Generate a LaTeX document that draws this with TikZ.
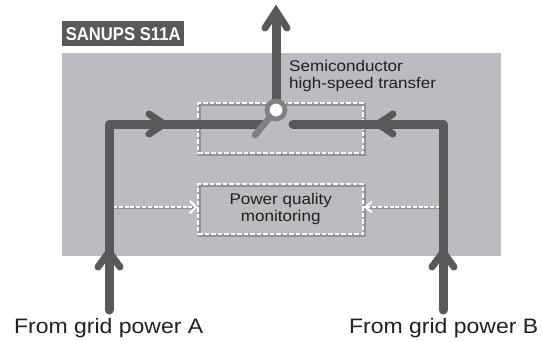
\documentclass[tikz,border=0pt]{standalone}
\usepackage{fontspec}
\setmainfont{Liberation Sans}
\usetikzlibrary{calc}
\definecolor{panel}{HTML}{BBBCC0}
\definecolor{dark}{HTML}{58595B}
\definecolor{arm}{HTML}{808184}
\definecolor{shade}{HTML}{77787B}
\definecolor{ink}{HTML}{231F20}
\newfontfamily\widefont[FakeStretch=1.1]{Liberation Sans}
\tikzset{
  x=1pt,y=-1pt,
  power/.style={draw=dark,line width=9pt,line join=round,line cap=round},
  barb/.style={draw=dark,line width=7pt,line join=miter,line cap=round},
  dashbox/.style={draw=white,line width=2.4pt,dash pattern=on 4.5pt off 2pt,minimum width=165pt,minimum height=50pt,inner sep=0pt,anchor=north west,align=center,text=ink,font=\widefont\fontsize{15.5}{17.5}\selectfont},
  dashshadow/.style={draw=shade,line width=2.4pt,minimum width=165pt,minimum height=50pt,inner sep=0pt,anchor=north west,opacity=.6},
  sense/.style={draw=white,line width=2pt,dash pattern=on 4pt off 1.8pt},
  senseshadow/.style={draw=shade,line width=2pt,opacity=.6},
  sensehead/.style={draw=white,line width=2pt,line cap=round},
  lbl/.style={text=ink,inner sep=0pt,anchor=base west}
}
\begin{document}
\begin{tikzpicture}
\useasboundingbox (0,0) rectangle (542,341);
\fill[white] (0,0) rectangle (542,341);
\node[fill=panel,minimum width=439pt,minimum height=203pt,inner sep=0pt,anchor=north west] (panel) at (62,53) {};
\node[fill=dark,minimum width=122pt,minimum height=25pt,inner sep=0pt,anchor=north west,text=white,font=\fontsize{18.5}{18.5}\bfseries] (title) at (62,21) {\scalebox{.9}[1]{SANUPS S11A}};

% shadows of dashed boxes
\node[dashshadow] (sa) at (198.2,103.2) {};
\node[dashshadow] (sb) at (198.2,184.2) {};
\node[dashbox] (transfer) at (197,102) {};
\node[dashbox] (monitor) at (197,183) {\raisebox{-2pt}{Power quality}\\\raisebox{-2pt}{monitoring}};

% named points
\coordinate (inA) at (109,310);
\coordinate (cornerA) at (109,124);
\coordinate (endA) at (262,124);
\coordinate (inB) at (443,310);
\coordinate (cornerB) at (443,124);
\coordinate (endB) at (293,124);
\coordinate (hub) at (276,110);
\coordinate (top) at (276,8);
\coordinate (armEnd) at (255,135);
\coordinate (tapA) at (113,207);
\coordinate (tapB) at (440,207);

% sensing arrows
\draw[senseshadow] ($(tapA)+(0,1.2)$) -- ($(monitor.west|-tapA)+(-3,1.2)$);
\draw[senseshadow] ($(tapB)+(0,1.2)$) -- ($(monitor.east|-tapB)+(3,1.2)$);
\draw[sense] (tapA) -- ($(monitor.west|-tapA)+(-3,0)$);
\draw[sense] (tapB) -- ($(monitor.east|-tapB)+(3,0)$);
\draw[sensehead] ($(monitor.west|-tapA)+(-7,-6)$) -- ($(monitor.west|-tapA)+(-1,0)$) -- ($(monitor.west|-tapA)+(-7,6)$);
\draw[sensehead] ($(monitor.east|-tapB)+(7,-5)$) -- ($(monitor.east|-tapB)+(1,0)$) -- ($(monitor.east|-tapB)+(7,5)$);

% power lines
\draw[power] (inA) -- (cornerA) -- (endA);
\draw[power] (inB) -- (cornerB) -- (endB);
\draw[power,line cap=butt] (hub) -- (276,16);
\draw[barb] (149,114) -- (164,124) -- (149,134);
\draw[barb] (393,114) -- (378,124) -- (393,134);
\draw[barb] (98,267) -- (109,252) -- (120,267);
\draw[barb] (432,267) -- (443,252) -- (454,267);
\draw[barb] (265,28) -- (276,11) -- (287,28);

% switch
\draw[draw=arm,line width=6.5pt,line cap=round] (hub) -- (armEnd);
\node[circle,draw=arm,fill=white,line width=4.8pt,minimum size=18pt,inner sep=0pt] (sw) at (hub) {};

% labels
\node[lbl,font=\widefont\fontsize{15.5}{17.5}\selectfont,align=left,anchor=north west] (semi) at (289,60) {Semiconductor\\high-speed transfer};
\node[lbl,font=\widefont\fontsize{20.9}{24}\selectfont] (fa) at (14,333) {From grid power A};
\node[lbl,font=\widefont\fontsize{20.9}{24}\selectfont] (fb) at (349,333) {From grid power B};
\end{tikzpicture}
\end{document}
